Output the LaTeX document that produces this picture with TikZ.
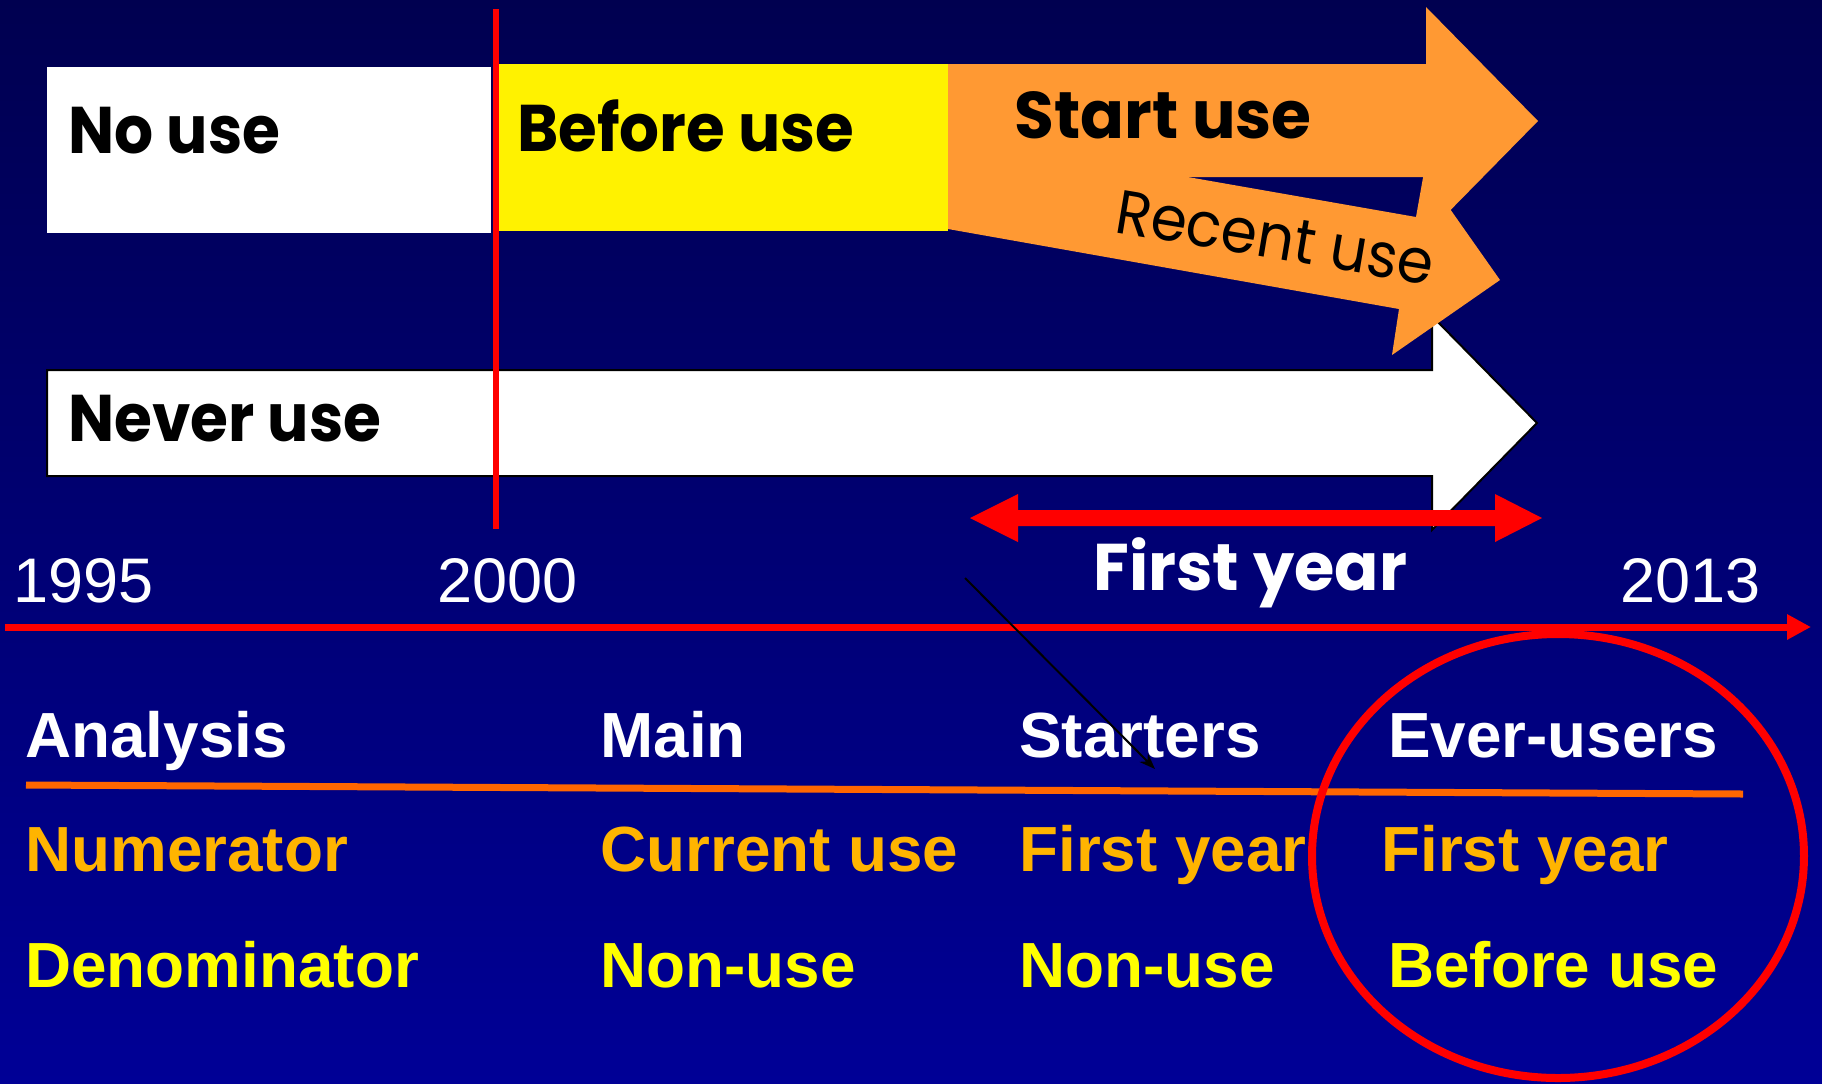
\documentclass[tikz,border=0pt]{standalone}
\usepackage{fontspec}
\setmainfont{Liberation Sans}
\newfontfamily\comic{Poppins}
\usetikzlibrary{arrows.meta}
\definecolor{bgtop}{RGB}{0,0,80}
\definecolor{bgbot}{RGB}{0,0,150}
\definecolor{orangeA}{RGB}{255,153,51}
\definecolor{lineorange}{RGB}{255,102,0}
\definecolor{numcol}{RGB}{255,180,0}
\definecolor{dencol}{RGB}{255,255,0}
\definecolor{redline}{RGB}{255,0,0}
\newcommand{\narrow}[2]{\scalebox{#1}[1]{#2}}
\begin{document}
\begin{tikzpicture}[x=0.5pt,y=-0.5pt,
  comictext/.style={font=\comic\bfseries\fontsize{33}{40}\selectfont, anchor=base west, inner sep=0pt},
  hdr/.style={font=\bfseries\fontsize{31.9}{36}\selectfont, text=white, anchor=base west, inner sep=0pt},
  numtext/.style={hdr, text=numcol},
  dentext/.style={hdr, text=dencol},
  yeartext/.style={font=\fontsize{31.5}{36}\selectfont, text=white, anchor=base west, inner sep=0pt},
  orangeshape/.style={fill=orangeA, draw=none},
]
\useasboundingbox (0,0) rectangle (1822,1083);
\shade[top color=bgtop, bottom color=bgbot] (0,0) rectangle (1822,1083);

% Never use arrow
\draw[fill=white, draw=black, line width=1pt] (47,370) -- (1432,370) -- (1432,316) -- (1537,423) -- (1432,530) -- (1432,476) -- (47,476) -- cycle;
% No use / Before use boxes
\fill[white] (47,67) rectangle (491,233);
\fill[yellow] (496,64) rectangle (948,231);
% Recent use arrow
\path[orangeshape] (948,135) -- (1416,217) -- (1424,172) -- (1500,280) -- (1392,355) -- (1399,309) -- (948,229) -- cycle;
% Start use arrow
\path[orangeshape] (948,64) -- (1426,64) -- (1426,7) -- (1538,121) -- (1426,235) -- (1426,177) -- (948,177) -- cycle;

% 2000 red vertical line
\coordinate (vtop) at (496,9);
\coordinate (vbot) at (496,529);
\draw[redline, line width=3pt] (vtop) -- (vbot);

% First year double arrow
\fill[redline] (970,518) -- (1018,494) -- (1018,510) -- (1495,510) -- (1495,494) -- (1542,518) -- (1495,542) -- (1495,526) -- (1018,526) -- (1018,542) -- cycle;

% labels in bars
\node[comictext] (nouse) at (68,153) {\narrow{0.93}{No use}};
\node[comictext] (beforeuse) at (517,151) {\narrow{0.95}{Before use}};
\node[comictext] (startuse) at (1014,138) {\narrow{0.98}{Start use}};
\node[comictext, font=\comic\fontsize{31}{38}\selectfont, rotate=-9.5] (recentuse) at (1113,232) {\narrow{0.94}{Recent use}};
\node[comictext] (neveruse) at (68,441) {\narrow{0.93}{Never use}};
\node[comictext, text=white] (firstyear) at (1093,590) {\narrow{0.99}{First year}};

% years
\node[yeartext] (y1995) at (13,602) {1995};
\node[yeartext] (y2000) at (437,602) {2000};
\node[yeartext] (y2013) at (1620,602) {2013};

% timeline
\coordinate (tl0) at (5,627);
\coordinate (tl1) at (1811,627);
\draw[redline, line width=3.5pt, -{Triangle[length=12pt,width=12pt]}] (tl0) -- (tl1);

% table
\node[hdr] (hA) at (25,757) {Analysis};
\node[hdr] (hM) at (600,757) {Main};
\node[hdr] (hS) at (1019,757) {Starters};
\node[hdr] (hE) at (1388,757) {Ever-users};

\coordinate (ol0) at (26,785);
\coordinate (ol1) at (1743,794);
\draw[lineorange, line width=3.5pt] (ol0) -- (ol1);

\node[numtext] (nA) at (25,871) {Numerator};
\node[numtext] (nM) at (600,871) {Current use};
\node[numtext] (nS) at (1019,871) {First year};
\node[numtext] (nE) at (1381,871) {First year};

\node[dentext] (dA) at (25,987) {Denominator};
\node[dentext] (dM) at (600,987) {Non-use};
\node[dentext] (dS) at (1019,987) {Non-use};
\node[dentext] (dE) at (1388,987) {Before use};

% ellipse
\draw[redline, line width=4pt] (1558,856) ellipse [x radius=246, y radius=222];

% thin black arrow
\coordinate (ba0) at (965,578);
\coordinate (ba1) at (1155,769);
\draw[black, line width=1pt, -{Stealth[length=8pt,width=6pt]}] (ba0) -- (ba1);
\end{tikzpicture}
\end{document}
